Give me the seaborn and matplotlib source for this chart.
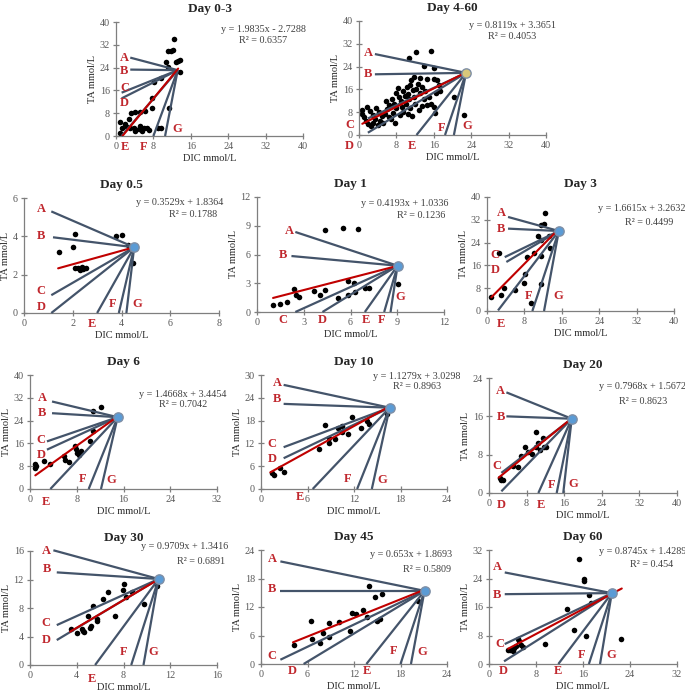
import matplotlib
matplotlib.use("Agg")
import matplotlib.pyplot as plt
import seaborn as sns
import pandas as pd

# ---------------- data ----------------
# Day 0-3
dic_d0_3 = [12.5, 11.1, 11.8, 12.1, 10.7, 12.9, 13.2, 13.6, 11.2, 13.6, 11.4, 7.8, 8.1, 9.6, 7.8, 3.3, 4.1, 5.2,
            6.3, 2.7, 0.9, 2.0, 1.2, 2.3, 3.1, 0.9, 3.8, 4.9, 5.2, 6.0, 6.7, 7.1, 8.9, 9.6, 4.1, 5.6]
ta_d0_3 = [34.2, 29.9, 30.0, 30.2, 26.0, 26.0, 26.4, 26.6, 24.3, 22.5, 9.7, 9.7, 19.0, 20.2, 13.2, 8.2, 8.5, 8.5,
           8.9, 5.8, 5.0, 4.2, 2.7, 3.3, 2.7, 0.9, 2.7, 2.3, 3.5, 2.7, 2.7, 2.1, 2.9, 2.7, 1.9, 1.7]
center_d0_3 = (13.2, 23.1)
rays_d0_3 = [(3.05, 27.5), (3.05, 23.3), (1.2, 15.2), (1.2, 13.2), (1.2, 0), (8.0, 0), (10.5, 0)]
fit_d0_3 = (1.9835, -2.7288, 0.6357)

# Day 4-60
dic_d4_60 = [12.2, 15.4, 10.8, 14.0, 16.0, 11.1, 16.1, 16.6, 20.4, 22.4, 11.4, 7.7, 17.4, 16.2,
             0.6, 0.6, 1.0, 1.5, 2.0, 2.5, 1.8, 2.4, 3.0, 3.5, 3.0, 4.0, 4.5, 5.0, 4.2, 3.6, 5.5, 6.0,
             6.5, 5.8, 7.0, 7.5, 8.0, 7.2, 6.4, 8.5, 8.0, 8.3, 9.0, 9.5, 9.8, 10.2, 10.5, 10.8, 11.0,
             11.5, 11.8, 12.2, 12.6, 13.0, 13.4, 13.8, 14.2, 14.6, 15.0, 15.5, 16.0, 13.5, 12.0, 11.0,
             10.0, 9.2, 9.5, 8.7, 10.4, 12.8, 6.8, 5.2, 14.5, 13.0, 11.8, 17.2, 16.5]
ta_d4_60 = [29.0, 29.5, 26.9, 24.2, 23.4, 19.3, 19.5, 19.3, 13.5, 7.0, 6.8, 4.3, 15.5, 7.6,
            8.8, 7.4, 6.2, 5.0, 4.0, 3.2, 9.8, 8.5, 7.0, 5.5, 4.2, 3.6, 5.0, 6.5, 8.0, 9.6, 7.5, 9.0,
            10.5, 11.8, 12.5, 11.0, 9.5, 7.8, 6.2, 13.5, 14.8, 16.5, 12.0, 15.5, 13.8, 16.8, 14.5, 12.5, 17.5,
            15.8, 13.5, 16.2, 18.0, 14.8, 17.0, 12.8, 15.5, 10.5, 13.5, 11.0, 9.8, 10.2, 11.0, 9.5,
            10.8, 9.8, 8.0, 7.0, 7.3, 8.8, 5.5, 4.2, 19.5, 20.0, 20.5, 17.5, 14.8]
center_d4_60 = (22.9, 21.8)
rays_d4_60 = [(3.4, 28.4), (3.4, 21.3), (1.9, 5.8), (1.9, 0.8), (12.3, 0), (18.4, 0), (20.3, 0)]
fit_d4_60 = (0.8119, 3.3651, 0.4053)

# Day 0.5
dic_d0_5 = [2.08, 3.79, 4.0, 4.27, 1.99, 1.42, 2.08, 2.22, 2.36, 2.42, 2.53, 2.29, 4.48]
ta_d0_5 = [4.13, 4.02, 4.07, 3.55, 3.46, 3.17, 2.33, 2.33, 2.41, 2.29, 2.33, 2.24, 2.62]
center_d0_5 = (4.52, 3.43)
rays_d0_5 = [(1.12, 5.3), (1.19, 3.95), (1.12, 0.93), (1.12, 0), (3.0, 0), (3.89, 0), (4.2, 0)]
fit_d0_5 = (0.3529, 1.8364, 0.1788)

# Day 1
dic_d1 = [4.35, 5.53, 6.49, 1.03, 1.46, 1.93, 2.38, 2.53, 2.68, 3.66, 4.07, 4.35, 5.21, 5.81, 5.81, 6.24,
          6.28, 6.92, 7.18, 9.02]
ta_d1 = [8.59, 8.8, 8.7, 0.77, 0.87, 1.04, 2.43, 1.74, 1.57, 2.16, 1.74, 2.26, 1.5, 3.23, 1.74, 3.03,
         2.09, 2.54, 2.54, 2.96]
center_d1 = (9.02, 4.83)
rays_d1 = [(2.46, 8.35), (2.21, 5.84), (2.46, 0), (4.2, 0), (6.92, 0), (8.16, 0), (8.57, 0)]
fit_d1 = (0.4193, 1.0336, 0.1236)

# Day 3
dic_d3 = [12.5, 11.5, 12.2, 10.9, 13.3, 11.5, 2.57, 10.0, 11.5, 13.4, 8.64, 8.07, 3.57, 3.07, 0.93, 5.93,
          7.9, 11.5, 9.5]
ta_d3 = [34.5, 30.1, 30.4, 26.2, 26.2, 24.8, 20.4, 20.4, 19.3, 22.2, 18.9, 13.1, 8.2, 5.7, 4.9, 7.5,
         9.8, 9.6, 2.8]
center_d3 = (15.36, 28.07)
rays_d3 = [(4.5, 33.0), (4.5, 28.9), (3.79, 18.9), (4.14, 17.2), (2.36, 0.2), (9.7, 0), (12.2, 0)]
fit_d3 = (1.6615, 3.2632, 0.4499)

# Day 6
dic_d6 = [10.8, 12.2, 10.8, 10.2, 0.91, 1.0, 0.91, 2.45, 3.37, 5.76, 6.05, 6.6, 7.76, 7.93, 8.04, 8.3, 8.8, 8.6]
ta_d6 = [27.2, 28.9, 20.5, 16.9, 8.9, 8.2, 7.3, 9.7, 8.9, 11.7, 10.3, 9.6, 15.2, 14.0, 12.6, 12.0, 13.4, 12.6]
center_d6 = (15.0, 25.2)
rays_d6 = [(3.77, 30.7), (3.77, 26.6), (2.9, 16.7), (2.9, 13.8), (3.48, 0), (10.04, 0), (12.15, 0)]
fit_d6 = (1.4668, 3.4454, 0.7042)

# Day 10
dic_d10 = [1.42, 1.63, 2.5, 2.92, 7.44, 8.3, 8.73, 8.82, 9.5, 9.94, 10.5, 10.5, 11.2, 11.7, 12.9, 13.7, 13.9, 16.3]
ta_d10 = [4.2, 3.76, 5.5, 4.6, 10.5, 16.9, 13.4, 12.2, 13.2, 16.0, 16.7, 14.9, 14.4, 18.9, 16.0, 17.8, 17.1, 19.8]
center_d10 = (16.6, 21.4)
rays_d10 = [(2.92, 27.4), (2.92, 22.4), (2.92, 11.0), (2.92, 8.1), (6.67, 0), (12.4, 0), (14.3, 0)]
fit_d10 = (1.1279, 3.0298, 0.8963)

# Day 20
dic_d20 = [2.28, 2.63, 3.0, 5.1, 6.2, 6.9, 7.6, 8.3, 9.2, 9.96, 10.1, 10.8, 11.5, 11.7, 12.2, 10.5]
ta_d20 = [3.13, 2.78, 2.64, 5.7, 5.4, 7.8, 9.6, 8.6, 8.2, 9.7, 12.7, 9.0, 11.5, 9.6, 9.7, 10.4]
center_d20 = (17.6, 15.5)
rays_d20 = [(3.7, 21.0), (3.7, 16.0), (2.63, 4.2), (2.63, 0.35), (10.5, 0), (14.4, 0), (15.8, 0)]
fit_d20 = (0.7968, 1.5672, 0.8623)

# Day 30
dic_d30 = [3.49, 4.06, 4.43, 4.57, 4.63, 5.0, 5.14, 5.24, 5.43, 5.71, 5.71, 6.23, 6.71, 7.29, 7.94, 8.06,
           8.23, 8.71, 9.77, 10.9]
ta_d30 = [5.05, 4.44, 5.05, 4.77, 4.58, 6.9, 5.2, 5.52, 8.3, 6.17, 6.46, 9.26, 10.3, 6.9, 10.5, 11.3,
          9.6, 10.3, 8.5, 11.1]
center_d30 = (11.0, 12.07)
rays_d30 = [(2.0, 16.1), (2.29, 13.0), (2.29, 5.6), (2.29, 3.5), (5.57, 0), (8.66, 0), (9.71, 0)]
fit_d30 = (0.9709, 1.3416, 0.6891)

# Day 45
dic_d45 = [4.2, 6.5, 6.58, 7.66, 7.96, 8.8, 8.8, 10.0, 11.5, 11.8, 12.3, 13.2, 13.7, 13.9, 14.7, 15.0,
           15.3, 15.6, 20.3]
ta_d45 = [4.06, 9.1, 5.3, 4.4, 6.5, 8.6, 5.67, 8.8, 7.0, 10.7, 10.5, 11.4, 10.0, 16.4, 14.2, 9.1,
          9.5, 14.7, 13.3]
center_d45 = (21.1, 15.4)
rays_d45 = [(2.5, 21.6), (2.5, 15.4), (2.5, 0.9), (5.5, 0), (13.6, 0), (18.0, 0), (19.35, 0)]
fit_d45 = (0.653, 1.8693, 0.5809)

# Day 60
dic_d60 = [15.4, 16.1, 16.2, 17.0, 17.4, 13.2, 14.4, 16.5, 22.4, 9.6, 3.53, 4.27, 4.67, 5.07, 4.96,
           5.52, 5.81, 4.0, 3.2, 21.0]
ta_d60 = [29.4, 23.9, 23.3, 19.4, 17.1, 15.4, 9.6, 8.0, 7.1, 5.6, 4.0, 4.5, 5.1, 6.5, 7.1,
          5.2, 4.7, 3.6, 4.0, 19.5]
center_d60 = (20.9, 19.9)
rays_d60 = [(2.68, 25.7), (2.68, 19.6), (2.68, 5.6), (2.56, 0.75), (11.8, 0), (17.0, 0), (18.9, 0)]
fit_d60 = (0.8745, 1.4289, 0.454)

letters = ["A", "B", "C", "D", "E", "F", "G"]

# ---------------- layout (pixel boxes, axis ranges, label spots) ----------------
panels = [
    dict(title="Day 0-3", x=dic_d0_3, y=ta_d0_3, c=center_d0_3, rays=rays_d0_3, fit=fit_d0_3,
         box=(116, 22, 303, 136), xmax=40, xstep=8, ymax=40, ystep=8, xr=(1.4, 13.3),
         lab=[(1.8, 27.5), (1.8, 22.9), (1.8, 16.9), (1.8, 11.7), (2, -4), (5.8, -4), (13, 2.3)],
         eq=(31.5, 37.3), r2=(31.5, 33.4), mark=None),
    dict(title="Day 4-60", x=dic_d4_60, y=ta_d4_60, c=center_d4_60, rays=rays_d4_60, fit=fit_d4_60,
         box=(359, 21, 546, 135), xmax=40, xstep=8, ymax=40, ystep=8, xr=(0.7, 22.9),
         lab=[(1.9, 28.7), (1.9, 21.3), (-2, 3.5), (-2, -4), (11.4, -4), (17.6, 2.6), (23.1, 3.1)],
         eq=(32.8, 38.5), r2=(32.8, 34.6), mark="#d9c87a"),
    dict(title="Day 0.5", x=dic_d0_5, y=ta_d0_5, c=center_d0_5, rays=rays_d0_5, fit=fit_d0_5,
         box=(24, 198, 219, 313), xmax=8, xstep=2, ymax=6, ystep=2, xr=(1.4, 4.5),
         lab=[(0.71, 5.42), (0.71, 4.02), (0.71, 1.14), (0.71, 0.31), (2.77, -0.56), (3.63, 0.49), (4.64, 0.45)],
         eq=(6.4, 5.77), r2=(6.93, 5.16), mark="#5b9bd5"),
    dict(title="Day 1", x=dic_d1, y=ta_d1, c=center_d1, rays=rays_d1, fit=fit_d1,
         box=(257, 197, 444, 312), xmax=12, xstep=3, ymax=12, ystep=3, xr=(1.03, 9.02),
         lab=[(2.06, 8.45), (1.67, 5.9), (1.67, -0.8), (4.2, -0.8), (7.0, -0.8), (8.0, -0.8), (9.2, 1.57)],
         eq=(9.5, 11.37), r2=(10.56, 10.1), mark="#5b9bd5"),
    dict(title="Day 3", x=dic_d3, y=ta_d3, c=center_d3, rays=rays_d3, fit=fit_d3,
         box=(487, 197, 674, 311), xmax=40, xstep=8, ymax=40, ystep=8, xr=(0.93, 14.5),
         lab=[(3.0, 34.4), (3.0, 28.7), (1.79, 19.5), (1.79, 14.3), (3.07, -4.4), (8.93, 5.3), (15.2, 5.1)],
         eq=(33.2, 35.9), r2=(34.6, 31.2), mark="#5b9bd5"),
    dict(title="Day 6", x=dic_d6, y=ta_d6, c=center_d6, rays=rays_d6, fit=fit_d6,
         box=(30, 375, 217, 489), xmax=32, xstep=8, ymax=40, ystep=8, xr=(0.91, 14.9),
         lab=[(2.05, 31.8), (2.05, 26.8), (1.88, 17.3), (1.88, 12), (2.74, -4.7), (9.0, 3.5), (13.9, 3.3)],
         eq=(26.2, 33), r2=(26.2, 29.5), mark="#5b9bd5"),
    dict(title="Day 10", x=dic_d10, y=ta_d10, c=center_d10, rays=rays_d10, fit=fit_d10,
         box=(261, 375, 447, 489), xmax=24, xstep=6, ymax=30, ystep=6, xr=(1.2, 16.6),
         lab=[(2.06, 27.8), (2.06, 23.6), (1.42, 11.9), (1.42, 7.9), (5.08, -2.1), (11.2, 2.6), (15.7, 2.45)],
         eq=(20.1, 29.6), r2=(20.2, 26.9), mark="#5b9bd5"),
    dict(title="Day 20", x=dic_d20, y=ta_d20, c=center_d20, rays=rays_d20, fit=fit_d20,
         box=(489, 378, 677, 493), xmax=40, xstep=8, ymax=24, ystep=8, xr=(2.06, 17.2),
         lab=[(2.49, 21.2), (2.49, 15.8), (1.78, 5.7), (2.63, -2.4), (11.0, -2.4), (13.3, 1.74), (17.9, 1.95)],
         eq=(32.7, 22.3), r2=(32.7, 19.1), mark="#5b9bd5"),
    dict(title="Day 30", x=dic_d30, y=ta_d30, c=center_d30, rays=rays_d30, fit=fit_d30,
         box=(30, 551, 217, 665), xmax=16, xstep=4, ymax=16, ystep=4, xr=(3.43, 10.9),
         lab=[(1.43, 16), (1.43, 13.5), (1.37, 5.85), (1.37, 3.5), (5.3, -1.9), (8.0, 1.8), (10.57, 1.8)],
         eq=(13.2, 16.6), r2=(14.6, 14.5), mark="#5b9bd5"),
    dict(title="Day 45", x=dic_d45, y=ta_d45, c=center_d45, rays=rays_d45, fit=fit_d45,
         box=(261, 550, 447, 664), xmax=24, xstep=6, ymax=24, ystep=6, xr=(4.13, 20.8),
         lab=[(1.42, 22), (1.42, 15.8), (1.42, 1.6), (4.0, -1.5), (13.7, -1.5), (17.1, 2.7), (20.8, 2.5)],
         eq=(19.3, 22.95), r2=(21.4, 19.8), mark="#5b9bd5"),
    dict(title="Day 60", x=dic_d60, y=ta_d60, c=center_d60, rays=rays_d60, fit=fit_d60,
         box=(489, 550, 677, 664), xmax=32, xstep=8, ymax=32, ystep=8, xr=(3.25, 22.6),
         lab=[(1.42, 27.1), (1.42, 19.4), (1.82, 5.6), (2.4, -2.05), (11.7, -2.05), (15.8, 2.6), (20.8, 2.6)],
         eq=(26.1, 31.5), r2=(27.7, 27.8), mark="#5b9bd5"),
]

W, H = 685, 694
RAY = "#44546a"
RED = "#c00000"
LETTER = "#c0272d"

sns.set_style("ticks")
plt.rcParams['font.family'] = ['Liberation Serif', 'DejaVu Serif']

fig = plt.figure(figsize=(W / 100, H / 100), dpi=100)

for p in panels:
    l, t, r, b = p["box"]
    ax = fig.add_axes([l / W, 1 - b / H, (r - l) / W, (b - t) / H])

    df = pd.DataFrame({"DIC": p["x"], "TA": p["y"]})
    sns.scatterplot(data=df, x="DIC", y="TA", ax=ax, color="black", s=16, linewidth=0, zorder=2)

    cx, cy = p["c"]
    for sx, sy in p["rays"]:
        ax.plot([sx, cx], [sy, cy], color=RAY, lw=1.6, zorder=3, clip_on=False, solid_capstyle="butt")

    slope, icpt, r2 = p["fit"]
    x0, x1 = p["xr"]
    ax.plot([x0, x1], [slope * x0 + icpt, slope * x1 + icpt], color=RED, lw=1.5, zorder=4)

    if p["mark"]:
        ax.scatter([cx], [cy], s=45, color=p["mark"], edgecolor="#7f8fa6", linewidth=1.0, zorder=5)

    for letter, (lx, ly) in zip(letters, p["lab"]):
        ax.text(lx, ly, letter, color=LETTER, fontsize=9, fontweight="bold",
                ha="center", va="center", clip_on=False, zorder=6)

    sign = "+" if icpt >= 0 else "-"
    ax.text(p["eq"][0], p["eq"][1], f"y = {slope}x {sign} {abs(icpt)}", fontsize=7.3,
            color="#404040", ha="center", va="center", clip_on=False)
    ax.text(p["r2"][0], p["r2"][1], f"R² = {r2}", fontsize=7.3,
            color="#404040", ha="center", va="center", clip_on=False)

    ax.set_xlim(0, p["xmax"])
    ax.set_ylim(0, p["ymax"])
    ax.set_xticks(range(0, p["xmax"] + 1, p["xstep"]))
    ax.set_yticks(range(0, p["ymax"] + 1, p["ystep"]))
    ax.tick_params(direction="inout", length=5, width=0.9, colors="#7f7f7f", labelcolor="#595959",
                   labelsize=7.3, pad=2)
    for s in ["top", "right"]:
        ax.spines[s].set_visible(False)
    for s in ["left", "bottom"]:
        ax.spines[s].set_color("#7f7f7f")
        ax.spines[s].set_linewidth(0.9)

    ax.set_xlabel("DIC mmol/L", fontsize=7.5, color="#262626", labelpad=2)
    ax.set_ylabel("TA mmol/L", fontsize=7.5, color="#262626", labelpad=2)
    ax.set_title(p["title"], fontsize=9.5, fontweight="bold", pad=7)

fig.savefig("out.png", dpi=100)
